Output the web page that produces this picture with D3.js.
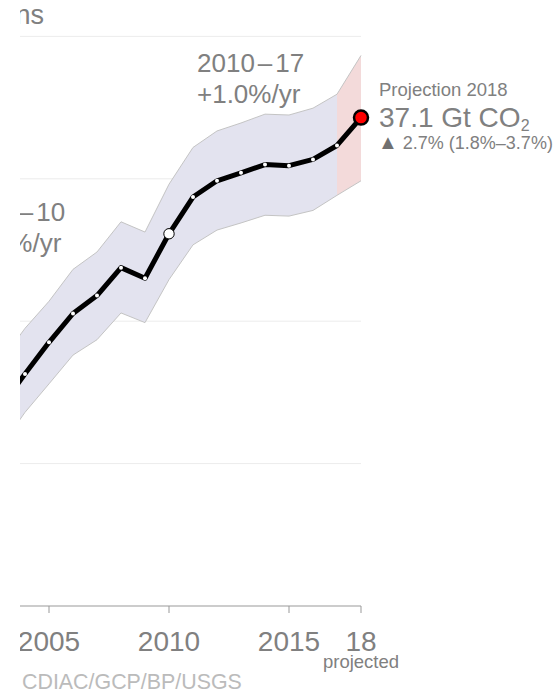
<!DOCTYPE html>
<html>
<head>
<meta charset="utf-8">
<script src="https://cdn.jsdelivr.net/npm/d3@7"></script>
<style>
  html, body { margin: 0; padding: 0; background: #fff; }
  svg { display: block; font-family: "Liberation Sans", Arial, Helvetica, sans-serif; }
</style>
</head>
<body>
<svg id="chart" width="558" height="696"></svg>
<script>
// ---- data ----
const years     = [2003, 2004, 2005, 2006, 2007, 2008, 2009, 2010, 2011, 2012, 2013, 2014, 2015, 2016, 2017, 2018];
const emissions = [27.0, 28.15, 29.26, 30.27, 30.9, 31.88, 31.51, 33.07, 34.36, 34.93, 35.21, 35.5, 35.46, 35.68, 36.17, 37.15];
const lower     = [25.6, 26.8, 27.8, 28.81, 29.35, 30.29, 29.95, 31.46, 32.68, 33.2, 33.45, 33.72, 33.69, 33.89, 34.42, 34.93];
const upper     = [28.6, 29.75, 30.7, 31.82, 32.43, 33.49, 33.13, 34.81, 36.1, 36.68, 36.96, 37.27, 37.24, 37.48, 37.97, 39.33];
const gridValues = [25, 30, 35, 40];
const tickYears  = [2005, 2010, 2015, 2018];
const tickLabels = ["2005", "2010", "2015", "18"];
const unitLabel = "Fossil CO₂ emissions";
const leftNote  = ["2000", "–", "10", "+3.0%/yr"];
const rightNote = ["2010", "–", "17", "+1.0%/yr"];
const projTitle = "Projection 2018";
const projValue = "37.1 Gt CO";
const projArrow = "▲";
const projChange = "2.7% (1.8%–3.7%)";
const sourceText = "CDIAC/GCP/BP/USGS";

const data = years.map((y, i) => ({ year: y, v: emissions[i], lo: lower[i], hi: upper[i] }));

const svg = d3.select("#chart");
const x = d3.scaleLinear().domain([2003, 2018]).range([1, 361]);
const y = d3.scaleLinear().domain([20, 40]).range([606, 36.4]);

svg.append("defs").append("clipPath").attr("id", "clip")
  .append("rect").attr("x", 20).attr("y", 0).attr("width", 538).attr("height", 696);

const g = svg.append("g").attr("clip-path", "url(#clip)");
const grey = "#808080";

// unit label (mostly hidden at left)
g.append("text").attr("x", 44).attr("y", 24).attr("text-anchor", "end")
  .attr("font-size", 27).attr("fill", grey).text(unitLabel);

// gridlines
g.selectAll(".grid").data(gridValues).join("line")
  .attr("x1", 20).attr("x2", x(2018))
  .attr("y1", d => y(d)).attr("y2", d => y(d))
  .attr("stroke", "#ececec").attr("stroke-width", 1);

// uncertainty band
const area = d3.area().x(d => x(d.year)).y0(d => y(d.lo)).y1(d => y(d.hi));
const hist = data.filter(d => d.year <= 2017);
const proj = data.filter(d => d.year >= 2017);
g.append("path").datum(hist).attr("d", area).attr("fill", "#e3e3ef");
g.append("path").datum(proj).attr("d", area).attr("fill", "#f3dada");
g.append("path").datum(data).attr("d", d3.line().x(d => x(d.year)).y(d => y(d.hi)))
  .attr("fill", "none").attr("stroke", "#c4c4c4").attr("stroke-width", 1);
g.append("path").datum(data).attr("d", d3.line().x(d => x(d.year)).y(d => y(d.lo)))
  .attr("fill", "none").attr("stroke", "#c4c4c4").attr("stroke-width", 1);

// annotations
function note(x0, y0, parts) {
  const t = g.append("text").attr("font-size", 26).attr("fill", grey);
  t.append("tspan").attr("x", x0).attr("y", y0).text(parts[0]);
  t.append("tspan").attr("dx", 3).text(parts[1]);
  t.append("tspan").attr("dx", 3).text(parts[2]);
  t.append("tspan").attr("x", x0).attr("y", y0 + 31).text(parts[3]);
}
note(-42, 221, leftNote);
note(197, 72, rightNote);

// emissions line
g.append("path").datum(data)
  .attr("d", d3.line().x(d => x(d.year)).y(d => y(d.v)))
  .attr("fill", "none").attr("stroke", "#000").attr("stroke-width", 5)
  .attr("stroke-linejoin", "round");

// year dots
g.selectAll(".dot").data(data.filter(d => d.year !== 2010 && d.year !== 2018)).join("circle")
  .attr("cx", d => x(d.year)).attr("cy", d => y(d.v)).attr("r", 2)
  .attr("fill", "#fff");

const d2010 = data.find(d => d.year === 2010);
g.append("circle").attr("cx", x(d2010.year)).attr("cy", y(d2010.v)).attr("r", 5.2)
  .attr("fill", "#fff").attr("stroke", "#000").attr("stroke-width", 1);

const d2018 = data.find(d => d.year === 2018);
g.append("circle").attr("cx", x(d2018.year)).attr("cy", y(d2018.v)).attr("r", 7)
  .attr("fill", "#ff0000").attr("stroke", "#000").attr("stroke-width", 2.5);

// x axis
const axis = g.append("g").attr("transform", `translate(0,${y(20)})`);
axis.append("line").attr("x1", 20).attr("x2", x(2018)).attr("y1", 0).attr("y2", 0)
  .attr("stroke", "#999").attr("stroke-width", 1);
axis.selectAll(".tick").data(tickYears).join("line")
  .attr("x1", d => x(d)).attr("x2", d => x(d)).attr("y1", 0).attr("y2", 7)
  .attr("stroke", "#999").attr("stroke-width", 1);
axis.selectAll(".tl").data(tickYears).join("text")
  .attr("x", d => x(d)).attr("y", 45).attr("text-anchor", "middle")
  .attr("font-size", 28).attr("fill", grey)
  .text((d, i) => tickLabels[i]);
axis.append("text").attr("x", x(2018)).attr("y", 62).attr("text-anchor", "middle")
  .attr("font-size", 18.5).attr("fill", grey).text("projected");

// projection labels
g.append("text").attr("x", 379).attr("y", 96).attr("font-size", 18.5).attr("fill", grey).text(projTitle);
const pv = g.append("text").attr("x", 379).attr("y", 127).attr("font-size", 28).attr("fill", grey);
pv.append("tspan").text(projValue);
pv.append("tspan").attr("font-size", 16).attr("dy", 4).text("2");
const pc = g.append("text").attr("x", 378).attr("y", 149).attr("font-size", 18).attr("fill", grey);
pc.append("tspan").attr("font-size", 20).attr("fill", "#707070").text(projArrow);
pc.append("tspan").attr("dx", 5).text(projChange);

// source
g.append("text").attr("x", 22).attr("y", 689).attr("font-size", 21.4).attr("fill", "#bbbbbb").text(sourceText);
</script>
</body>
</html>
